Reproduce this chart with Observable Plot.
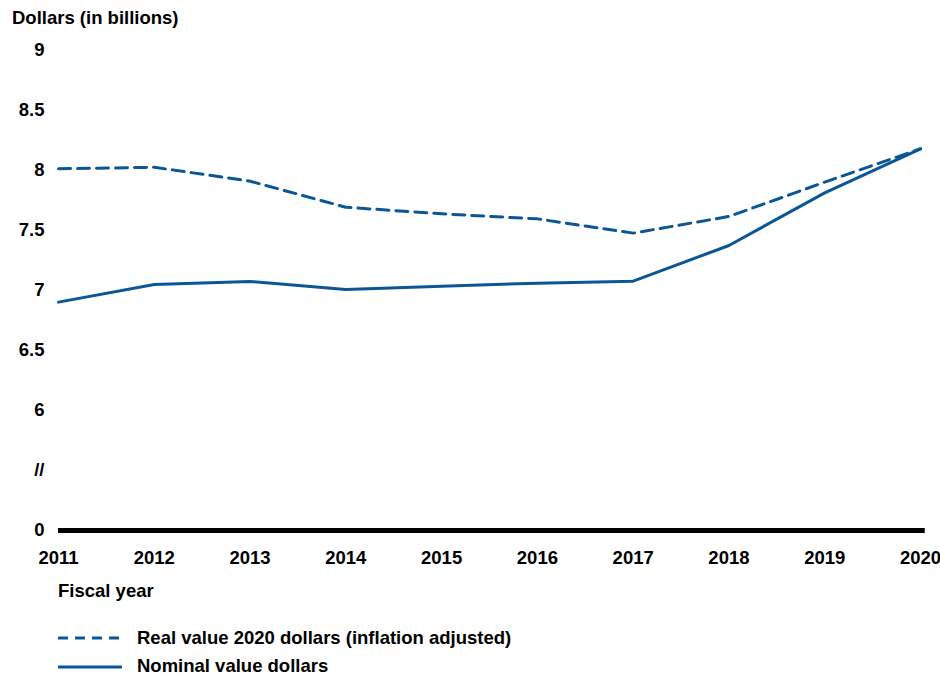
<!DOCTYPE html>
<html>
<head>
<meta charset="utf-8">
<script src="https://cdn.jsdelivr.net/npm/d3@7"></script>
<script src="https://cdn.jsdelivr.net/npm/@observablehq/plot@0.6"></script>
<style>
  body { margin: 0; background: #fff; font-family: "Liberation Sans", Arial, sans-serif; font-weight: bold; color: #000; overflow: hidden; }
  #wrap { position: relative; width: 940px; height: 675px; }
  .t { position: absolute; font-size: 18.5px; line-height: 16px; font-weight: bold; white-space: nowrap; }
  svg.leg { position: absolute; }
</style>
</head>
<body>
<div id="wrap">
  <div class="t" id="ytitle" style="left:12px; top:10px;">Dollars (in billions)</div>
  <div id="chart" style="position:absolute; left:0; top:40px;"></div>
  <div class="t" style="left:58px; top:583px;">Fiscal year</div>
  <svg class="leg" width="70" height="10" style="left:56px; top:633px;"><line x1="2" x2="66" y1="5" y2="5" stroke="#0b5697" stroke-width="3" stroke-dasharray="10,7"/></svg>
  <div class="t" style="left:137px; top:630px;">Real value 2020 dollars (inflation adjusted)</div>
  <svg class="leg" width="70" height="10" style="left:56px; top:662px;"><line x1="2" x2="66" y1="5" y2="5" stroke="#0b5697" stroke-width="3"/></svg>
  <div class="t" style="left:137px; top:658px;">Nominal value dollars</div>
</div>
<script>
const years = [2011, 2012, 2013, 2014, 2015, 2016, 2017, 2018, 2019, 2020];
const realValues = [8.014, 8.027, 7.911, 7.694, 7.639, 7.597, 7.478, 7.617, 7.903, 8.181];
const nominalValues = [6.903, 7.05, 7.075, 7.008, 7.036, 7.061, 7.078, 7.375, 7.814, 8.181];
const yTicks = [5, 5.5, 6, 6.5, 7, 7.5, 8, 8.5, 9];
const yTickLabels = ["0", "//", "6", "6.5", "7", "7.5", "8", "8.5", "9"];

const real = years.map((y, i) => ({year: y, value: realValues[i]}));
const nominal = years.map((y, i) => ({year: y, value: nominalValues[i]}));
const color = "#0b5697";

const chart = Plot.plot({
  width: 940,
  height: 540,
  marginTop: 10,
  marginBottom: 50,
  marginLeft: 58,
  marginRight: 20,
  style: {fontFamily: "'Liberation Sans', Arial, sans-serif", fontSize: "18.5px", fontWeight: "bold", color: "#000", background: "#fff"},
  x: {domain: [2011, 2020], label: null},
  y: {domain: [5, 9], label: null},
  marks: [
    Plot.axisY({ticks: yTicks, tickFormat: d => yTickLabels[yTicks.indexOf(d)], tickSize: 0, tickPadding: 14, label: null, fontWeight: "bold", fontSize: 18.5}),
    Plot.axisX({ticks: years, tickFormat: d => String(d), tickSize: 0, tickPadding: 20, label: null, fontWeight: "bold", fontSize: 18.5}),
    Plot.ruleY([5], {stroke: "#000", strokeWidth: 5, x1: 2011, x2: 2020.05}),
    Plot.line(real, {x: "year", y: "value", stroke: color, strokeWidth: 3, strokeDasharray: "12,7"}),
    Plot.line(nominal, {x: "year", y: "value", stroke: color, strokeWidth: 3})
  ]
});
document.getElementById("chart").appendChild(chart);
</script>
</body>
</html>
